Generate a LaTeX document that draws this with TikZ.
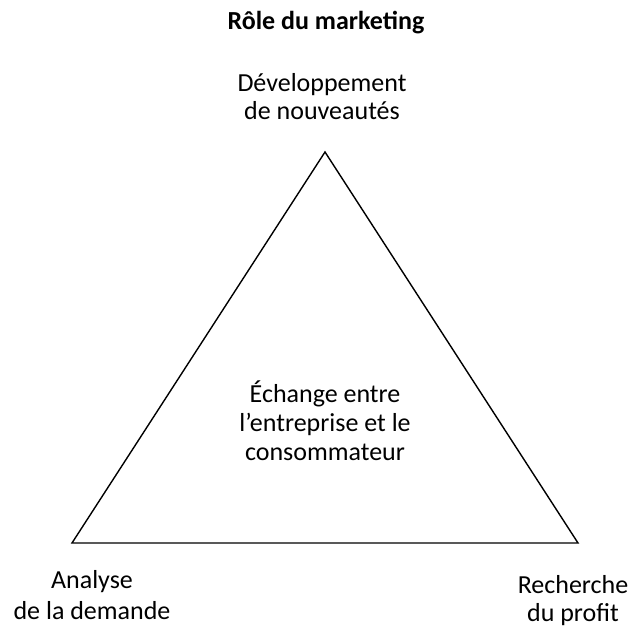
\documentclass[tikz,border=0pt]{standalone}
\usepackage{fontspec}
\setmainfont{Carlito}
\begin{document}
\begin{tikzpicture}[x=1pt,y=-1pt,
  lbl/.style={anchor=base,font=\fontsize{26}{31}\selectfont,inner sep=0pt},
  ttl/.style={anchor=base,font=\fontsize{26}{31}\selectfont\bfseries,inner sep=0pt}]
\useasboundingbox (0,0) rectangle (632,628);
\coordinate (top) at (325,152);
\coordinate (bl) at (72,543);
\coordinate (br) at (578,543);
\draw[line width=1.4pt,line join=miter] (top) -- (bl) -- (br) -- cycle;
\node[ttl] (title) at (326,30) {Rôle du marketing};
\node[lbl] (dev1) at (322,92) {Développement};
\node[lbl] (dev2) at (322,120) {de nouveautés};
\node[lbl] (ech1) at (325,402) {Échange entre};
\node[lbl] (ech2) at (325,431) {l’entreprise et le};
\node[lbl] (ech3) at (325,460) {consommateur};
\node[lbl] (ana1) at (92,588) {Analyse};
\node[lbl] (ana2) at (92,619) {de la demande};
\node[lbl] (rec1) at (573,593) {Recherche};
\node[lbl] (rec2) at (573,621) {du profit};
\end{tikzpicture}
\end{document}
